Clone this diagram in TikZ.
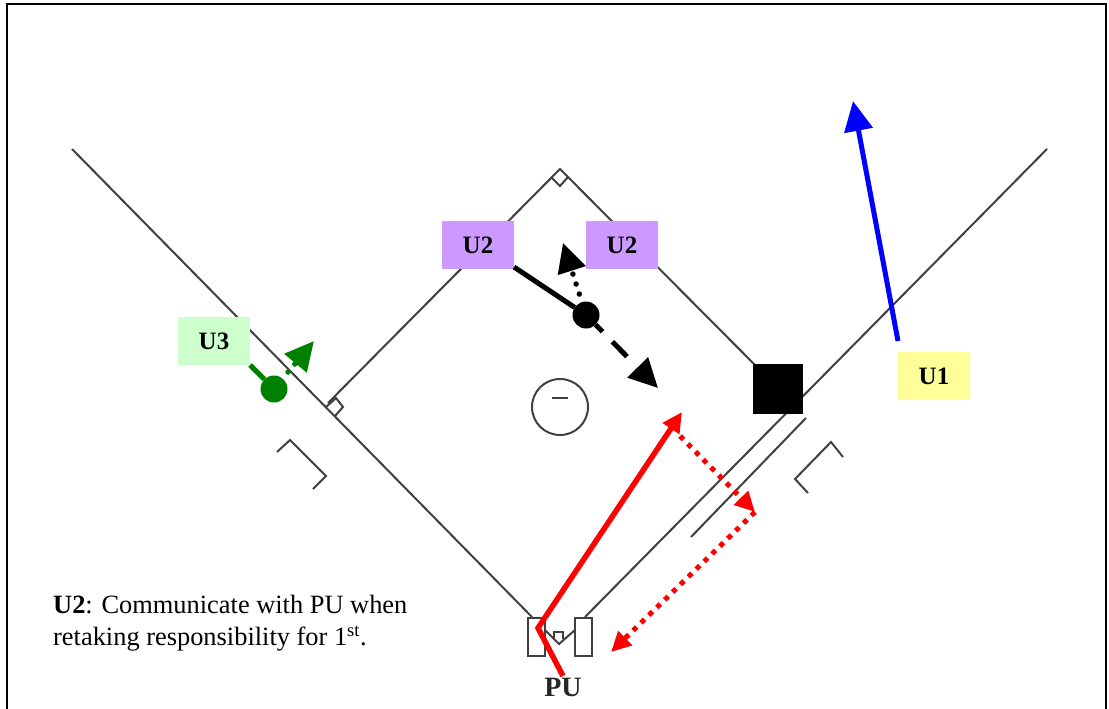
\documentclass[tikz,border=0pt]{standalone}
\usepackage{fontspec}
\setmainfont{Liberation Serif}
\usetikzlibrary{arrows.meta}
\definecolor{fieldline}{HTML}{404040}
\definecolor{ublue}{HTML}{0000FF}
\definecolor{ugreen}{HTML}{008000}
\definecolor{upurple}{HTML}{CC99FF}
\definecolor{ugreenbg}{HTML}{CCFFCC}
\definecolor{uyellow}{HTML}{FFFF99}
\tikzset{
  x=1pt,y=-1pt,
  field/.style={draw=fieldline,line width=2pt,line join=miter},
  ubox/.style={minimum width=72pt,minimum height=48pt,inner sep=0pt,outer sep=0pt,font=\fontsize{25}{25}\selectfont\bfseries},
  runner/.style={circle,fill=#1,minimum size=27pt,inner sep=0pt,outer sep=0pt},
  bighead/.style={-{Triangle[length=30pt,width=28pt]}},
  smallhead/.style={-{Triangle[length=20pt,width=19pt]}},
  move/.style={line width=5pt},
  dots/.style={line width=5pt,dash pattern=on 5pt off 6pt},
  rounddots/.style={line width=5.5pt,line cap=round,dash pattern=on 0pt off 10.5pt,dash phase=2pt},
}
\begin{document}
\begin{tikzpicture}
\useasboundingbox (0,0) rectangle (1109,709);
\fill[white] (0,0) rectangle (1109,709);
\begin{scope}
\clip (0,0) rectangle (1109,709);
\draw[black,line width=2pt] (7,4) rectangle (1106,730);
\end{scope}
% field
\draw[field] (72,149) -- (532,617);
\draw[field] (1047,149) -- (585,617);
\draw[field] (328,403) -- (560,169) -- (760,370);
\draw[field] (326,407) -- (336,398) -- (343,407) -- (335,416);
\draw[field] (568,177) -- (560,186) -- (551,177);
\draw[field] (806,418) -- (691,537);
\draw[field] (277,452) -- (290,440) -- (326,476) -- (313,489);
\draw[field] (843,457) -- (831,442) -- (795,479) -- (808,493);
\draw[field] (545,630) -- (559,644) -- (575,630);
\draw[field,line width=1.5pt] (554,638) -- (554,632) -- (563,632) -- (563,639);
\draw[field,fill=white] (528,618) rectangle (545,656);
\draw[field,fill=white] (575,618) rectangle (592,656);
\node[circle,draw=fieldline,line width=2pt,minimum size=56pt,inner sep=0pt] (rubber) at (560,407) {};
\draw[fieldline,line width=2.5pt] (552,398) -- (568,398);
\node[fill=black,minimum size=50pt,inner sep=0pt,outer sep=0pt] (first) at (778,389) {};
% labels
\node[ubox,fill=upurple] (u2a) at (478,245) {\raisebox{-3pt}{U2}};
\node[ubox,fill=upurple] (u2b) at (622,245) {\raisebox{-3pt}{U2}};
\node[ubox,fill=ugreenbg] (u3) at (214,341) {\raisebox{-3pt}{U3}};
\node[ubox,fill=uyellow] (u1) at (934,376) {\raisebox{-3pt}{U1}};
\node[font=\fontsize{28}{28}\selectfont\bfseries,text=black!85,inner sep=0pt] (pu) at (563,687) {PU};
\node[anchor=north west,align=left,inner sep=0pt,font=\fontsize{26.4}{32}\selectfont] (note) at (53,595)
  {\textbf{U2}: Communicate with PU when\\retaking responsibility for 1\textsuperscript{st}.};
% runners
\node[runner=black] (r2) at (586,315) {};
\node[runner=ugreen] (r3) at (274,389) {};
\coordinate (u1start) at (898,341);
\coordinate (u1end) at (853,101);
\coordinate (u2start) at (514,267);
\coordinate (u3start) at (250,365);
\coordinate (u3end) at (314,341);
\coordinate (u2up) at (563,243);
\coordinate (u2down) at (658,388);
\coordinate (rp0) at (563,676);
\coordinate (rp1) at (538,628);
\coordinate (rp2) at (682,412);
\coordinate (rd0) at (680,436);
\coordinate (rd1) at (755,512);
\coordinate (rd2) at (611,652);
% movement
\draw[ublue,move,bighead] (u1start) -- (u1end);
\draw[black,move] (u2start) -- (r2);
\draw[black,move,-{Triangle[length=29pt,width=28pt]},dash pattern=on 10pt off 14pt on 21pt off 99pt] (r2) -- (u2down);
\draw[black,rounddots,-{Triangle[length=29pt,width=28pt]}] (r2) -- (u2up);
\draw[ugreen,move] (u3start) -- (r3);
\draw[ugreen,rounddots,-{Triangle[length=29pt,width=28pt]}] (r3) -- (u3end);
\draw[red,line width=5.5pt,line join=miter,smallhead] (rp0) -- (rp1) -- (rp2);
\draw[red,dots,smallhead] (rd0) -- (rd1);
\draw[red,dots,smallhead] (rd1) -- (rd2);
\end{tikzpicture}
\end{document}
